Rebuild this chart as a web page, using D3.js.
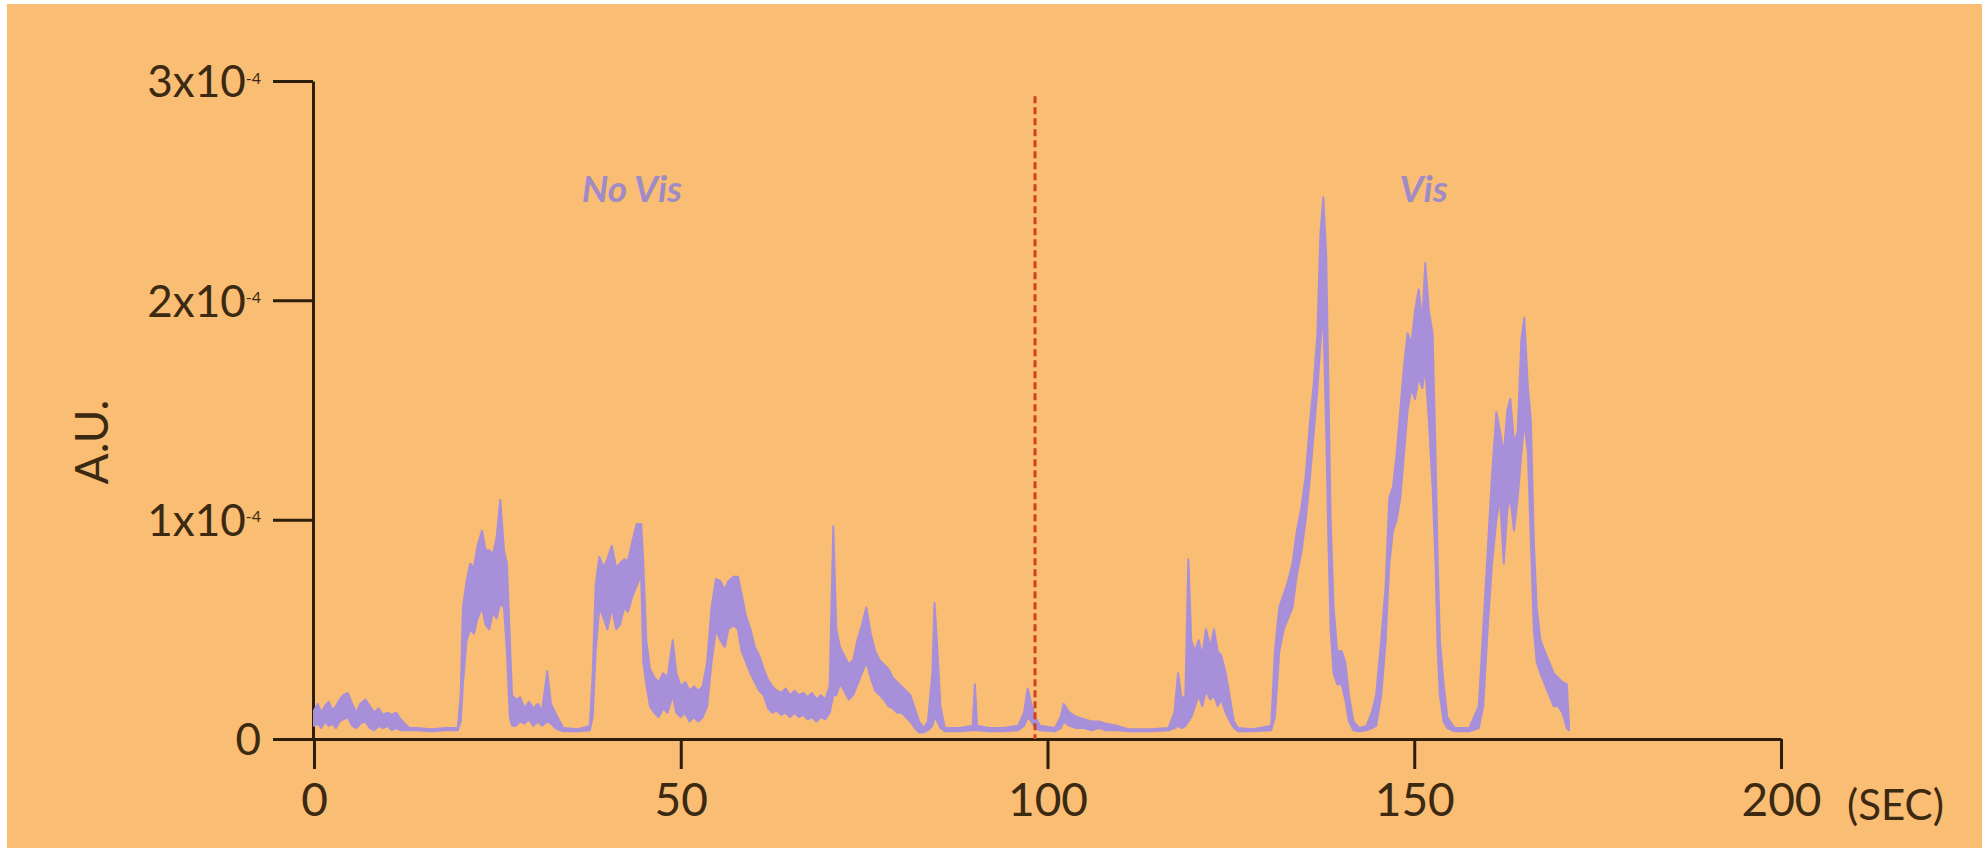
<!DOCTYPE html>
<meta charset="utf-8">
<style>
  html, body { margin: 0; padding: 0; background: #ffffff; }
  svg { display: block; }
  .tick text { font-family: Lato, "Noto Sans", sans-serif; fill: #3b2912; }
</style>
<script src="https://d3js.org/d3.v7.min.js"></script>

<div id="chart"></div>

<script>
// time (s) and the min / max envelope of the trace, in A.U. x 10^-4
const seconds = [
  0, 0.5, 1, 1.5, 2, 2.5, 3, 3.5, 4, 4.6, 5.2, 5.8, 6.3, 7, 7.6, 8.2, 8.8, 9.4, 10, 10.6,
  11.2, 11.8, 12.4, 13, 14, 16, 18, 19.6, 20, 20.3, 20.8, 21.3, 21.8, 22.3, 22.9, 23.4, 23.9, 24.4, 24.9, 25.4,
  25.9, 26.3, 26.7, 27, 27.5, 28.1, 28.7, 29.3, 29.9, 30.5, 31.1, 31.8, 32.3, 32.9, 33.5, 34, 36, 37.6, 38, 38.4,
  38.9, 39.5, 40, 40.6, 41.2, 41.7, 42.3, 42.8, 43.4, 44, 44.6, 44.9, 45.3, 45.8, 46.4, 47, 47.6, 48.2, 48.9, 49.4,
  50, 50.6, 51.2, 51.8, 52.4, 53, 53.6, 54.2, 54.8, 55.4, 56, 56.5, 57.2, 57.8, 58.3, 58.9, 59.5, 60.1, 60.7, 61.3,
  61.9, 62.5, 63.1, 63.7, 64.3, 64.9, 65.5, 66.1, 66.7, 67.3, 67.9, 68.5, 69.1, 69.7, 70.3, 70.8, 71.2, 71.7, 72.3, 72.9,
  73.5, 74.1, 74.7, 75.3, 75.9, 76.5, 77.1, 77.7, 78.3, 78.9, 79.5, 80.1, 80.7, 81.3, 81.9, 82.5, 83.1, 83.7, 84.3, 84.6,
  85, 85.4, 86, 88, 89.8, 90.1, 90.4, 92, 94, 96, 96.8, 97.3, 97.8, 98.3, 99, 101, 101.8, 102.2, 103, 104,
  105, 106, 107, 108, 109.5, 111, 114, 116.5, 117.3, 117.8, 118.3, 118.8, 119.2, 119.6, 120.1, 120.6, 121.1, 121.6, 122.2, 122.7,
  123.2, 123.7, 124.3, 124.9, 125.4, 126, 128, 130.5, 131, 131.6, 132.2, 132.8, 133.4, 134, 134.6, 135.2, 135.8, 136.3, 136.8, 137.2,
  137.6, 138, 138.3, 138.6, 139, 139.5, 140.1, 140.6, 141.1, 141.7, 142.5, 143.5, 144.2, 144.8, 145.5, 146.1, 146.6, 147.1, 147.6, 148.1,
  148.6, 149.1, 149.6, 150.1, 150.6, 151.1, 151.5, 152, 152.5, 152.9, 153.2, 153.5, 154, 154.5, 155.5, 157.5, 158.8, 159.4, 160, 160.6,
  161.2, 161.7, 162.2, 162.7, 163.1, 163.6, 164.1, 164.6, 165, 165.5, 165.9, 166.3, 166.7, 167.2, 167.8, 168.4, 169, 169.6, 170.2, 170.8,
  171.1
];
const traceLow = [
  0.06, 0.07, 0.05, 0.08, 0.06, 0.07, 0.05, 0.08, 0.09, 0.10, 0.06, 0.05, 0.07, 0.08, 0.05, 0.04, 0.06, 0.05, 0.06, 0.04,
  0.05, 0.04, 0.04, 0.04, 0.04, 0.035, 0.04, 0.04, 0.08, 0.25, 0.45, 0.50, 0.48, 0.55, 0.60, 0.52, 0.50, 0.58, 0.55, 0.62,
  0.60, 0.40, 0.10, 0.06, 0.06, 0.08, 0.07, 0.09, 0.06, 0.08, 0.06, 0.08, 0.07, 0.05, 0.04, 0.035, 0.035, 0.04, 0.10, 0.40,
  0.60, 0.55, 0.50, 0.60, 0.50, 0.52, 0.60, 0.58, 0.65, 0.70, 0.75, 0.35, 0.25, 0.15, 0.12, 0.10, 0.14, 0.12, 0.20, 0.12,
  0.10, 0.12, 0.08, 0.10, 0.08, 0.10, 0.15, 0.35, 0.50, 0.45, 0.42, 0.50, 0.52, 0.50, 0.40, 0.35, 0.30, 0.26, 0.22, 0.20,
  0.14, 0.12, 0.13, 0.11, 0.12, 0.10, 0.12, 0.10, 0.11, 0.09, 0.10, 0.08, 0.10, 0.09, 0.12, 0.20, 0.20, 0.25, 0.22, 0.18,
  0.20, 0.25, 0.30, 0.35, 0.28, 0.22, 0.20, 0.18, 0.15, 0.14, 0.12, 0.12, 0.10, 0.08, 0.05, 0.03, 0.03, 0.04, 0.06, 0.10,
  0.08, 0.05, 0.035, 0.035, 0.04, 0.04, 0.04, 0.035, 0.035, 0.04, 0.06, 0.10, 0.08, 0.05, 0.04, 0.035, 0.05, 0.08, 0.06, 0.05,
  0.05, 0.04, 0.05, 0.04, 0.04, 0.035, 0.035, 0.04, 0.05, 0.06, 0.05, 0.06, 0.08, 0.10, 0.15, 0.20, 0.15, 0.22, 0.18, 0.20,
  0.15, 0.18, 0.12, 0.08, 0.05, 0.035, 0.035, 0.04, 0.10, 0.40, 0.50, 0.55, 0.60, 0.75, 0.85, 1.00, 1.20, 1.40, 1.60, 1.80,
  1.95, 1.40, 0.90, 0.50, 0.30, 0.25, 0.25, 0.18, 0.08, 0.04, 0.035, 0.04, 0.05, 0.06, 0.20, 0.45, 0.80, 0.95, 1.00, 1.10,
  1.30, 1.50, 1.60, 1.55, 1.65, 1.60, 1.70, 1.45, 1.15, 0.80, 0.40, 0.20, 0.08, 0.05, 0.035, 0.035, 0.05, 0.15, 0.50, 0.80,
  1.00, 1.10, 0.80, 1.05, 1.10, 0.95, 1.10, 1.30, 1.45, 1.30, 0.90, 0.50, 0.35, 0.30, 0.25, 0.20, 0.15, 0.15, 0.12, 0.05,
  0.04
];
const traceHigh = [
  0.13, 0.16, 0.12, 0.15, 0.17, 0.13, 0.15, 0.18, 0.20, 0.21, 0.16, 0.12, 0.16, 0.18, 0.15, 0.12, 0.14, 0.11, 0.12, 0.11,
  0.12, 0.09, 0.07, 0.05, 0.05, 0.045, 0.05, 0.05, 0.20, 0.60, 0.72, 0.80, 0.78, 0.88, 0.95, 0.86, 0.86, 0.84, 0.92, 1.09,
  0.86, 0.80, 0.45, 0.20, 0.18, 0.19, 0.14, 0.17, 0.14, 0.16, 0.13, 0.31, 0.16, 0.12, 0.08, 0.05, 0.045, 0.06, 0.30, 0.70,
  0.83, 0.78, 0.82, 0.88, 0.78, 0.80, 0.82, 0.81, 0.90, 0.98, 0.98, 0.80, 0.45, 0.32, 0.28, 0.26, 0.30, 0.28, 0.45, 0.30,
  0.24, 0.26, 0.22, 0.24, 0.22, 0.24, 0.35, 0.60, 0.73, 0.72, 0.68, 0.72, 0.74, 0.74, 0.66, 0.56, 0.50, 0.42, 0.38, 0.32,
  0.27, 0.24, 0.22, 0.21, 0.23, 0.20, 0.22, 0.20, 0.21, 0.19, 0.21, 0.18, 0.20, 0.18, 0.24, 0.97, 0.50, 0.42, 0.38, 0.34,
  0.36, 0.45, 0.52, 0.60, 0.48, 0.40, 0.36, 0.34, 0.32, 0.28, 0.26, 0.24, 0.22, 0.20, 0.14, 0.08, 0.05, 0.08, 0.30, 0.62,
  0.40, 0.15, 0.05, 0.05, 0.06, 0.25, 0.06, 0.05, 0.05, 0.06, 0.12, 0.23, 0.16, 0.10, 0.06, 0.05, 0.10, 0.16, 0.12, 0.10,
  0.09, 0.08, 0.08, 0.07, 0.06, 0.045, 0.045, 0.05, 0.12, 0.30, 0.18, 0.20, 0.82, 0.45, 0.40, 0.45, 0.38, 0.50, 0.42, 0.50,
  0.40, 0.38, 0.30, 0.18, 0.08, 0.05, 0.045, 0.06, 0.40, 0.60, 0.66, 0.72, 0.80, 0.95, 1.05, 1.20, 1.45, 1.62, 1.85, 2.30,
  2.47, 2.20, 1.60, 1.00, 0.60, 0.40, 0.40, 0.35, 0.20, 0.08, 0.05, 0.06, 0.12, 0.20, 0.45, 0.70, 1.10, 1.15, 1.30, 1.50,
  1.70, 1.85, 1.80, 1.95, 2.05, 1.90, 2.17, 1.95, 1.85, 1.30, 0.80, 0.45, 0.25, 0.10, 0.05, 0.05, 0.15, 0.50, 0.85, 1.20,
  1.49, 1.40, 1.30, 1.50, 1.55, 1.35, 1.40, 1.82, 1.92, 1.60, 1.45, 0.90, 0.60, 0.45, 0.40, 0.35, 0.30, 0.28, 0.26, 0.25,
  0.06
];

const xTicks = [0, 50, 100, 150, 200];
const yTicks = [0, 1, 2, 3];          // multiples of 10^-4
const stimulusOnset = 98.3;            // s, red dashed marker
const markerTop = 2.93;
const phaseLabels = [
  { text: "No Vis", t: 36.5, v: 2.45 },
  { text: "Vis", t: 148, v: 2.45 }
];

var width = 1982, height = 850;
var margin = {top: 81, right: 201, bottom: 111, left: 314};

var svg = d3.select("#chart")
  .append("svg")
    .attr("width", width)
    .attr("height", height);

// orange panel with a thin white edge at the top and left
svg.append("rect")
  .attr("x", 7)
  .attr("y", 4)
  .attr("width", width - 7)
  .attr("height", height - 6)
  .attr("fill", "#f9bd74");

var x = d3.scaleLinear()
  .domain([0, 200])
  .range([margin.left, width - margin.right]);

var y = d3.scaleLinear()
  .domain([0, 3])
  .range([height - margin.bottom, margin.top]);

var axisColor = "#2d1d0b";

// x axis
var gx = svg.append("g")
  .attr("transform", "translate(0," + y(0) + ")")
  .call(d3.axisBottom(x).tickValues(xTicks).tickSize(30).tickSizeOuter(0).tickPadding(14))
gx.selectAll("text").attr("font-size", "46px");

// y axis
var gy = svg.append("g")
  .attr("transform", "translate(" + (x(0) - 1) + ",0)")
  .call(d3.axisLeft(y).tickValues(yTicks).tickSize(40).tickSizeOuter(0).tickPadding(12))

gy.selectAll(".tick text")
  .attr("font-size", "44px")
  .attr("dy", "0.36em")
  .each(function(d) {
    var t = d3.select(this).text("");
    if (d === 0) {
      t.append("tspan").text("0");
      return;
    }
    t.append("tspan").text(d + "x10");
    t.append("tspan").attr("font-size", "16px").attr("dy", "-0.85em").text("-4");
  });

svg.selectAll(".domain, .tick line")
  .attr("stroke", axisColor)
  .attr("stroke-width", 3);

// unit after the last x tick
svg.append("text")
  .attr("x", x(200) + 66)
  .attr("y", y(0) + 81)
  .attr("font-family", "Lato, 'Noto Sans', sans-serif")
  .attr("font-size", "42px")
  .attr("fill", "#3b2912")
  .text("(SEC)");

// y axis title
svg.append("text")
  .attr("transform", "translate(108," + 442 + ") rotate(-90)")
  .attr("text-anchor", "middle")
  .attr("font-family", "Lato, 'Noto Sans', sans-serif")
  .attr("font-size", "46px")
  .attr("fill", "#3b2912")
  .text("A.U.");

// signal, drawn as its min/max envelope
var idx = d3.range(seconds.length);
var area = d3.area()
  .x(function(i) { return x(seconds[i]); })
  .y0(function(i) { return y(traceLow[i]); })
  .y1(function(i) { return y(traceHigh[i]); });

svg.append("path")
  .datum(idx)
  .attr("d", area)
  .attr("fill", "#a78fd9")
  .attr("stroke", "#a78fd9")
  .attr("stroke-width", 2)
  .attr("stroke-linejoin", "round");

// stimulus marker
svg.append("line")
  .attr("x1", x(stimulusOnset))
  .attr("x2", x(stimulusOnset))
  .attr("y1", y(markerTop))
  .attr("y2", y(0))
  .attr("stroke", "#d23f1c")
  .attr("stroke-width", 3)
  .attr("stroke-dasharray", "7,4");

// phase labels
svg.selectAll(".phase")
  .data(phaseLabels)
  .enter()
  .append("text")
    .attr("class", "phase")
    .attr("x", function(d) { return x(d.t); })
    .attr("y", function(d) { return y(d.v); })
    .attr("font-family", "Lato, 'Noto Sans', sans-serif")
    .attr("font-size", "37px")
    .attr("font-weight", "bold")
    .attr("font-style", "italic")
    .attr("fill", "#a08bc6")
    .text(function(d) { return d.text; });
</script>
